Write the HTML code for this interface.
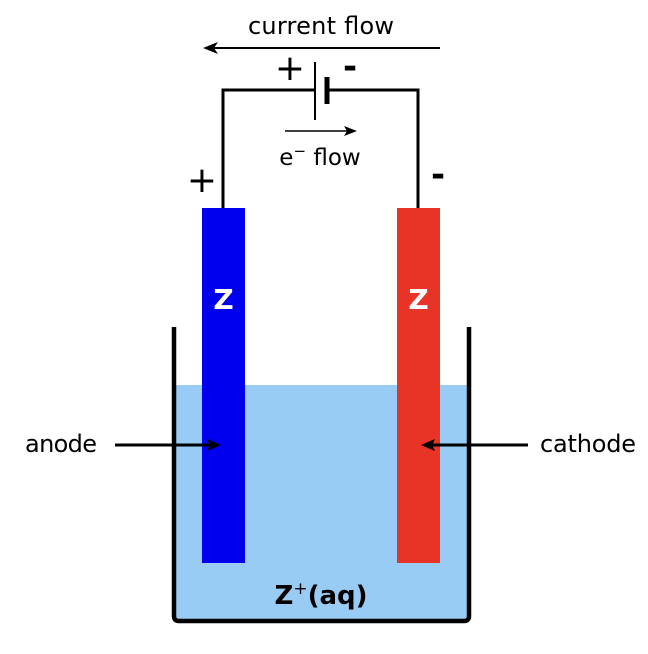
<!DOCTYPE html>
<html><head><style>body{margin:0;background:#fff}svg{display:block}</style></head><body>
<svg width="648" height="654" xmlns="http://www.w3.org/2000/svg" font-family="'DejaVu Sans','Liberation Sans',sans-serif">
<rect x="176" y="385" width="291" height="234" fill="#99ccf5"/>
<path d="M174 327 V616 Q174 621 179 621 H464 Q469 621 469 616 V327" fill="none" stroke="#000" stroke-width="4.5"/>
<rect x="202" y="208" width="43" height="355" fill="#0000ee"/>
<rect x="397" y="208" width="43" height="355" fill="#e83426"/>
<text x="223.5" y="309" font-size="28" font-weight="bold" fill="#fff" text-anchor="middle">Z</text>
<text x="418.5" y="309" font-size="28" font-weight="bold" fill="#fff" text-anchor="middle">Z</text>
<path d="M223 208 V90 H315 M328 90 H418 V208" fill="none" stroke="#000" stroke-width="3"/>
<line x1="315" y1="62" x2="315" y2="120" stroke="#000" stroke-width="2"/>
<line x1="327" y1="77" x2="327" y2="104" stroke="#000" stroke-width="5"/>
<line x1="440" y1="48" x2="208" y2="48" stroke="#000" stroke-width="2"/>
<path d="M203 48 L218 42 L214 48 L218 54 Z" fill="#000"/>
<line x1="285" y1="131" x2="350" y2="131" stroke="#000" stroke-width="1.5"/>
<path d="M357 131 L344 126 L347 131 L344 136 Z" fill="#000"/>
<text x="321" y="34" font-size="24" text-anchor="middle" textLength="146">current flow</text>
<text x="320" y="165" font-size="23" text-anchor="middle">e<tspan dy="-9" font-size="15">−</tspan><tspan dy="9"> flow</tspan></text>
<text x="290" y="80" font-size="36" text-anchor="middle">+</text>
<text x="350" y="78" font-size="34" font-weight="bold" text-anchor="middle">-</text>
<text x="202" y="192" font-size="36" text-anchor="middle">+</text>
<text x="438" y="186" font-size="34" font-weight="bold" text-anchor="middle">-</text>
<line x1="115" y1="445" x2="214" y2="445" stroke="#000" stroke-width="3"/>
<path d="M221 445 L207 439 L210 445 L207 451 Z" fill="#000"/>
<line x1="528" y1="445" x2="428" y2="445" stroke="#000" stroke-width="3"/>
<path d="M421 445 L435 439 L432 445 L435 451 Z" fill="#000"/>
<text x="61" y="452" font-size="24" text-anchor="middle" textLength="72">anode</text>
<text x="588" y="452" font-size="24" text-anchor="middle" textLength="96">cathode</text>
<text x="321" y="604" font-size="26" font-weight="bold" text-anchor="middle">Z<tspan dy="-10" font-size="17" font-weight="normal">+</tspan><tspan dy="10">(aq)</tspan></text>
</svg>
</body></html>
